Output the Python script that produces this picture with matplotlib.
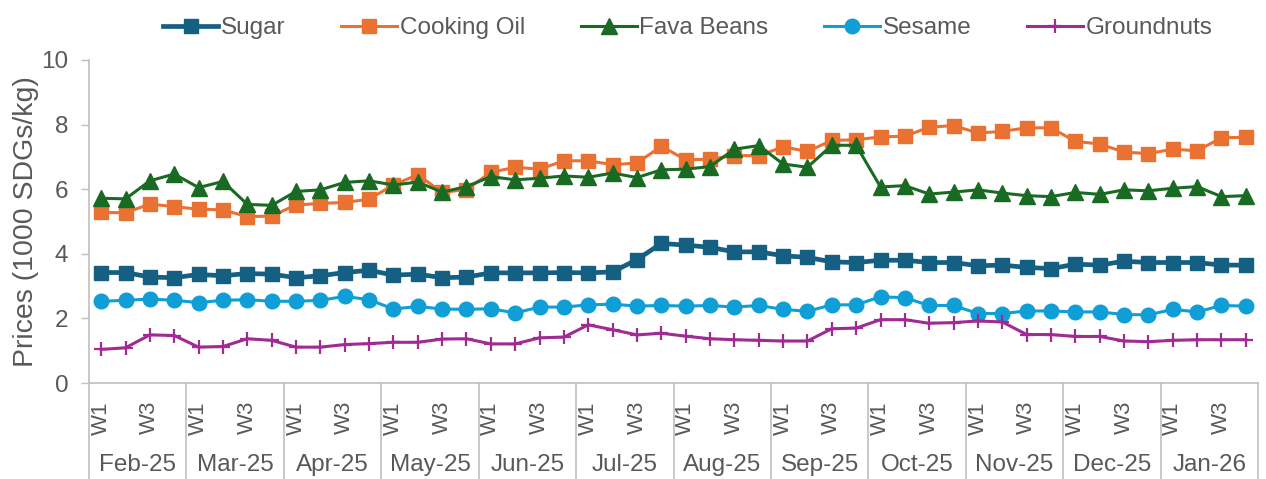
import numpy as np
import matplotlib.pyplot as plt
from matplotlib import transforms

plt.rcParams['font.family'] = ['Liberation Sans', 'DejaVu Sans']

# Aylar ve haftalar
months = ['Feb-25', 'Mar-25', 'Apr-25', 'May-25', 'Jun-25', 'Jul-25',
          'Aug-25', 'Sep-25', 'Oct-25', 'Nov-25', 'Dec-25', 'Jan-26']
weeks = ['W1', 'W2', 'W3', 'W4']

# Fiyat serileri (1000 SDG/kg), her ay 4 hafta
sugar = [3.42, 3.42, 3.28, 3.26, 3.36, 3.32, 3.39, 3.37, 3.26, 3.32, 3.42, 3.49,
         3.34, 3.37, 3.26, 3.28, 3.41, 3.41, 3.41, 3.42, 3.41, 3.44, 3.82, 4.32,
         4.27, 4.20, 4.06, 4.06, 3.94, 3.89, 3.75, 3.73, 3.80, 3.80, 3.73, 3.73,
         3.63, 3.65, 3.58, 3.54, 3.68, 3.65, 3.77, 3.73, 3.73, 3.73, 3.65, 3.65]
cooking_oil = [5.28, 5.27, 5.54, 5.46, 5.38, 5.36, 5.15, 5.17, 5.51, 5.56, 5.59, 5.69,
               6.13, 6.45, 5.90, 5.99, 6.52, 6.68, 6.62, 6.88, 6.88, 6.76, 6.81, 7.33,
               6.91, 6.93, 7.04, 7.04, 7.31, 7.17, 7.51, 7.53, 7.62, 7.64, 7.92, 7.97,
               7.74, 7.79, 7.90, 7.90, 7.48, 7.40, 7.15, 7.10, 7.24, 7.19, 7.59, 7.61]
fava_beans = [5.72, 5.70, 6.26, 6.47, 6.05, 6.24, 5.53, 5.50, 5.93, 5.98, 6.21, 6.26,
              6.13, 6.22, 5.91, 6.08, 6.39, 6.29, 6.34, 6.41, 6.37, 6.50, 6.36, 6.60,
              6.62, 6.70, 7.24, 7.35, 6.78, 6.68, 7.36, 7.36, 6.07, 6.11, 5.85, 5.91,
              5.98, 5.88, 5.80, 5.77, 5.90, 5.84, 5.98, 5.95, 6.03, 6.08, 5.77, 5.80]
sesame = [2.53, 2.56, 2.60, 2.56, 2.49, 2.56, 2.58, 2.53, 2.53, 2.56, 2.68, 2.58,
          2.29, 2.37, 2.29, 2.28, 2.30, 2.17, 2.35, 2.35, 2.42, 2.44, 2.38, 2.40,
          2.38, 2.40, 2.35, 2.40, 2.28, 2.22, 2.42, 2.42, 2.67, 2.64, 2.40, 2.40,
          2.15, 2.15, 2.23, 2.23, 2.20, 2.20, 2.12, 2.11, 2.28, 2.20, 2.40, 2.38]
groundnuts = [1.04, 1.09, 1.49, 1.47, 1.11, 1.13, 1.37, 1.32, 1.11, 1.11, 1.19, 1.22,
              1.26, 1.26, 1.36, 1.37, 1.21, 1.21, 1.40, 1.42, 1.80, 1.65, 1.49, 1.54,
              1.45, 1.37, 1.34, 1.32, 1.30, 1.30, 1.68, 1.70, 1.96, 1.96, 1.85, 1.87,
              1.92, 1.89, 1.50, 1.50, 1.44, 1.44, 1.30, 1.28, 1.32, 1.34, 1.34, 1.34]

gray = '#595959'
axis_gray = '#BFBFBF'

fig = plt.figure(figsize=(12.66, 4.79), dpi=100)
ax = fig.add_axes([89 / 1266, 96 / 479, 1169 / 1266, 323 / 479])

x = np.arange(len(months) * len(weeks))
ax.plot(x, sugar, color='#156082', lw=3.4, marker='s', ms=10.5, label='Sugar')
ax.plot(x, cooking_oil, color='#E97132', lw=2.2, marker='s', ms=10.5, label='Cooking Oil')
ax.plot(x, fava_beans, color='#196B24', lw=2.2, marker='^', ms=11, label='Fava Beans')
ax.plot(x, sesame, color='#0F9ED5', lw=2.2, marker='o', ms=10.5, label='Sesame')
ax.plot(x, groundnuts, color='#A02B93', lw=2.2, marker='+', ms=10, mew=1.6, label='Groundnuts')

ax.set_xlim(-0.5, len(x) - 0.5)
ax.set_ylim(0, 10)
ax.set_yticks(np.arange(0, 11, 2))
ax.tick_params(axis='y', colors=axis_gray, labelcolor=gray, labelsize=17.5, length=6, width=1, pad=9)

# x ekseni: W1 ve W3 etiketleri
pos = [i * 4 + j for i in range(len(months)) for j in (0, 2)]
ax.set_xticks(pos)
ax.set_xticklabels([weeks[j] for i in range(len(months)) for j in (0, 2)], rotation=90)
ax.tick_params(axis='x', length=0, labelcolor=gray, labelsize=16, pad=13)

for s in ['top', 'right']:
    ax.spines[s].set_visible(False)
for s in ['left', 'bottom']:
    ax.spines[s].set_color(axis_gray)
    ax.spines[s].set_linewidth(1.2)

# ay etiketleri ve ayırıcı çizgiler
trans = transforms.blended_transform_factory(ax.transData, ax.transAxes)
for i, m in enumerate(months):
    ax.text(i * 4 + 1.5, -0.255, m, transform=trans, ha='center', va='center',
            fontsize=17.5, color=gray)
for k in range(len(months) + 1):
    ax.plot([k * 4 - 0.5, k * 4 - 0.5], [0, -0.31], transform=trans, color=axis_gray,
            lw=1.2, clip_on=False)

ax.set_ylabel('Prices (1000 SDGs/kg)', color=gray, fontsize=20.5)
ax.yaxis.set_label_coords(-0.043, 0.5)

fig.legend(loc='upper center', bbox_to_anchor=(0.543, 1.01), ncol=5, frameon=False,
           fontsize=17.5, labelcolor=gray, handlelength=2.3, handletextpad=0.1,
           columnspacing=2.3)

fig.savefig('out.png', dpi=100)
